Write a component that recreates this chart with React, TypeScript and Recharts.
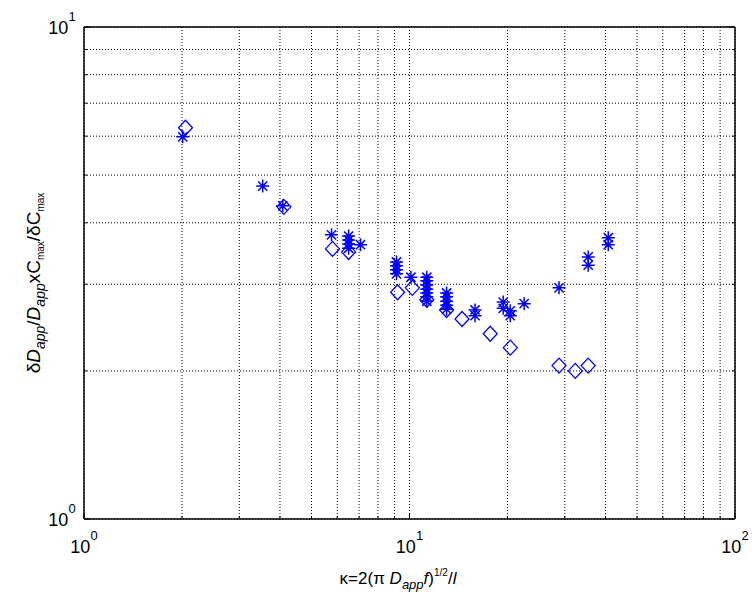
import { ScatterChart, Scatter, XAxis, YAxis, CartesianGrid } from 'recharts'

// open diamonds
const diamondX = [2.05, 4.11, 5.8, 6.5, 9.19, 10.2, 11.3, 13.0, 14.5, 17.7, 20.4, 28.8, 32.3, 35.4]
const diamondY = [6.24, 4.31, 3.54, 3.49, 2.89, 2.95, 2.79, 2.66, 2.55, 2.38, 2.23, 2.05, 2.0, 2.05]

// asterisks
const starX = [
  2.01, 3.54, 4.08, 5.76, 6.5, 6.5, 6.5, 6.5, 7.07, 9.12, 9.12, 9.12, 9.12, 10.1,
  11.3, 11.3, 11.3, 11.3, 11.3, 11.3, 11.3, 13.0, 13.0, 13.0, 13.0, 13.0,
  15.9, 15.9, 19.4, 19.4, 20.4, 20.4, 22.5, 28.8, 35.4, 35.4, 40.8, 40.8
]
const starY = [
  5.98, 4.75, 4.33, 3.78, 3.76, 3.69, 3.62, 3.55, 3.61, 3.33, 3.27, 3.21, 3.15, 3.1,
  3.1, 3.05, 2.99, 2.93, 2.88, 2.83, 2.77, 2.88, 2.83, 2.77, 2.72, 2.67,
  2.66, 2.59, 2.76, 2.68, 2.65, 2.59, 2.74, 2.95, 3.41, 3.28, 3.73, 3.61
]

const xTicks = [1, 2, 3, 4, 5, 6, 7, 8, 9, 10, 20, 30, 40, 50, 60, 70, 80, 90, 100]
const yTicks = [1, 2, 3, 4, 5, 6, 7, 8, 9, 10]
const decadeExp: Record<number, string> = { 1: '0', 10: '1', 100: '2' }

const diamonds = diamondX.map((x, i) => ({ x, y: diamondY[i] }))
const stars = starX.map((x, i) => ({ x, y: starY[i] }))

const BLUE = '#0000ff'
const FONT = 'Liberation Sans, Arial, sans-serif'

function Diamond(props: any) {
  const { cx, cy } = props
  return (
    <path
      d={`M${cx},${cy - 7.5}L${cx + 7},${cy}L${cx},${cy + 7.5}L${cx - 7},${cy}Z`}
      fill="none"
      stroke={BLUE}
      strokeWidth={1.3}
    />
  )
}

function Star(props: any) {
  const { cx, cy } = props
  const r = 6.5
  const d = 4.6
  return (
    <path
      d={`M${cx - r},${cy}H${cx + r}M${cx},${cy - r}V${cy + r}M${cx - d},${cy - d}L${cx + d},${cy + d}M${cx - d},${cy + d}L${cx + d},${cy - d}`}
      stroke={BLUE}
      strokeWidth={1.5}
      fill="none"
    />
  )
}

const isMajor = (v: number) => v in decadeExp

function BottomTick(props: any) {
  const { x, y, payload } = props
  const v = payload.value
  const len = isMajor(v) ? 6 : 3
  return (
    <g>
      <line x1={x} x2={x} y1={y} y2={y - len} stroke="#000" />
      {isMajor(v) && (
        <text x={x} y={y + 34} textAnchor="middle" fontFamily={FONT} fontSize={18} fill="#000">
          10<tspan dy={-13} fontSize={13}>{decadeExp[v]}</tspan>
        </text>
      )}
    </g>
  )
}

function TopTick(props: any) {
  const { x, y, payload } = props
  const len = isMajor(payload.value) ? 6 : 3
  return <line x1={x} x2={x} y1={y} y2={y + len} stroke="#000" />
}

function LeftTick(props: any) {
  const { x, y, payload } = props
  const v = payload.value
  const len = isMajor(v) ? 6 : 3
  return (
    <g>
      <line x1={x} x2={x + len} y1={y} y2={y} stroke="#000" />
      {isMajor(v) && (
        <text x={x - 22} y={y + 7} textAnchor="middle" fontFamily={FONT} fontSize={18} fill="#000">
          10<tspan dy={-13} fontSize={13}>{decadeExp[v]}</tspan>
        </text>
      )}
    </g>
  )
}

function RightTick(props: any) {
  const { x, y, payload } = props
  const len = isMajor(payload.value) ? 6 : 3
  return <line x1={x} x2={x - len} y1={y} y2={y} stroke="#000" />
}

const axisLine = { stroke: '#000', strokeWidth: 1.5 }

export default function App() {
  return (
    <div style={{ position: 'absolute', left: 0, top: 0, width: 756, height: 598, background: '#fff' }}>
      <ScatterChart width={756} height={598} margin={{ top: 7, right: 1, bottom: 49, left: 34 }}>
        <CartesianGrid xAxisId="b" yAxisId="l" stroke="#000" strokeDasharray="1 2" strokeWidth={1} />
        <XAxis
          xAxisId="b"
          dataKey="x"
          type="number"
          scale="log"
          domain={[1, 100]}
          ticks={xTicks}
          interval={0}
          allowDataOverflow
          height={30}
          tickSize={0}
          tickMargin={0}
          tick={<BottomTick />}
          axisLine={axisLine}
        />
        <XAxis
          xAxisId="t"
          orientation="top"
          type="number"
          scale="log"
          domain={[1, 100]}
          ticks={xTicks}
          interval={0}
          allowDataOverflow
          height={20}
          tickSize={0}
          tickMargin={0}
          tick={<TopTick />}
          axisLine={axisLine}
        />
        <YAxis
          yAxisId="l"
          dataKey="y"
          type="number"
          scale="log"
          domain={[1, 10]}
          ticks={yTicks}
          interval={0}
          allowDataOverflow
          width={50}
          tickSize={0}
          tickMargin={0}
          tick={<LeftTick />}
          axisLine={axisLine}
        />
        <YAxis
          yAxisId="r"
          orientation="right"
          type="number"
          scale="log"
          domain={[1, 10]}
          ticks={yTicks}
          interval={0}
          allowDataOverflow
          width={20}
          tickSize={0}
          tickMargin={0}
          tick={<RightTick />}
          axisLine={axisLine}
        />
        <Scatter xAxisId="b" yAxisId="l" data={diamonds} shape={<Diamond />} isAnimationActive={false} />
        <Scatter xAxisId="b" yAxisId="l" data={stars} shape={<Star />} isAnimationActive={false} />
      </ScatterChart>
      <svg
        width={756}
        height={598}
        style={{ position: 'absolute', left: 0, top: 0, pointerEvents: 'none' }}
      >
        <text x={398} y={584} textAnchor="middle" fontFamily={FONT} fontSize={17} fill="#000">
          κ=2(π <tspan fontStyle="italic">D</tspan>
          <tspan dy={5} fontSize={13} fontStyle="italic">app</tspan>
          <tspan dy={-5} fontStyle="italic">f</tspan>)
          <tspan dy={-8} fontSize={10}>1/2</tspan>
          <tspan dy={8}>/</tspan>
          <tspan fontStyle="italic">l</tspan>
        </text>
        <text
          transform="translate(40,283) rotate(-90)"
          textAnchor="middle"
          fontFamily={FONT}
          fontSize={19}
          fill="#000"
        >
          δ<tspan fontStyle="italic">D</tspan>
          <tspan dy={5} fontSize={14} fontStyle="italic">app</tspan>
          <tspan dy={-5}>/</tspan>
          <tspan fontStyle="italic">D</tspan>
          <tspan dy={5} fontSize={14} fontStyle="italic">app</tspan>
          <tspan dy={-5}>xC</tspan>
          <tspan dy={4} fontSize={10}>max</tspan>
          <tspan dy={-4}>/δC</tspan>
          <tspan dy={4} fontSize={10}>max</tspan>
        </text>
      </svg>
    </div>
  )
}
